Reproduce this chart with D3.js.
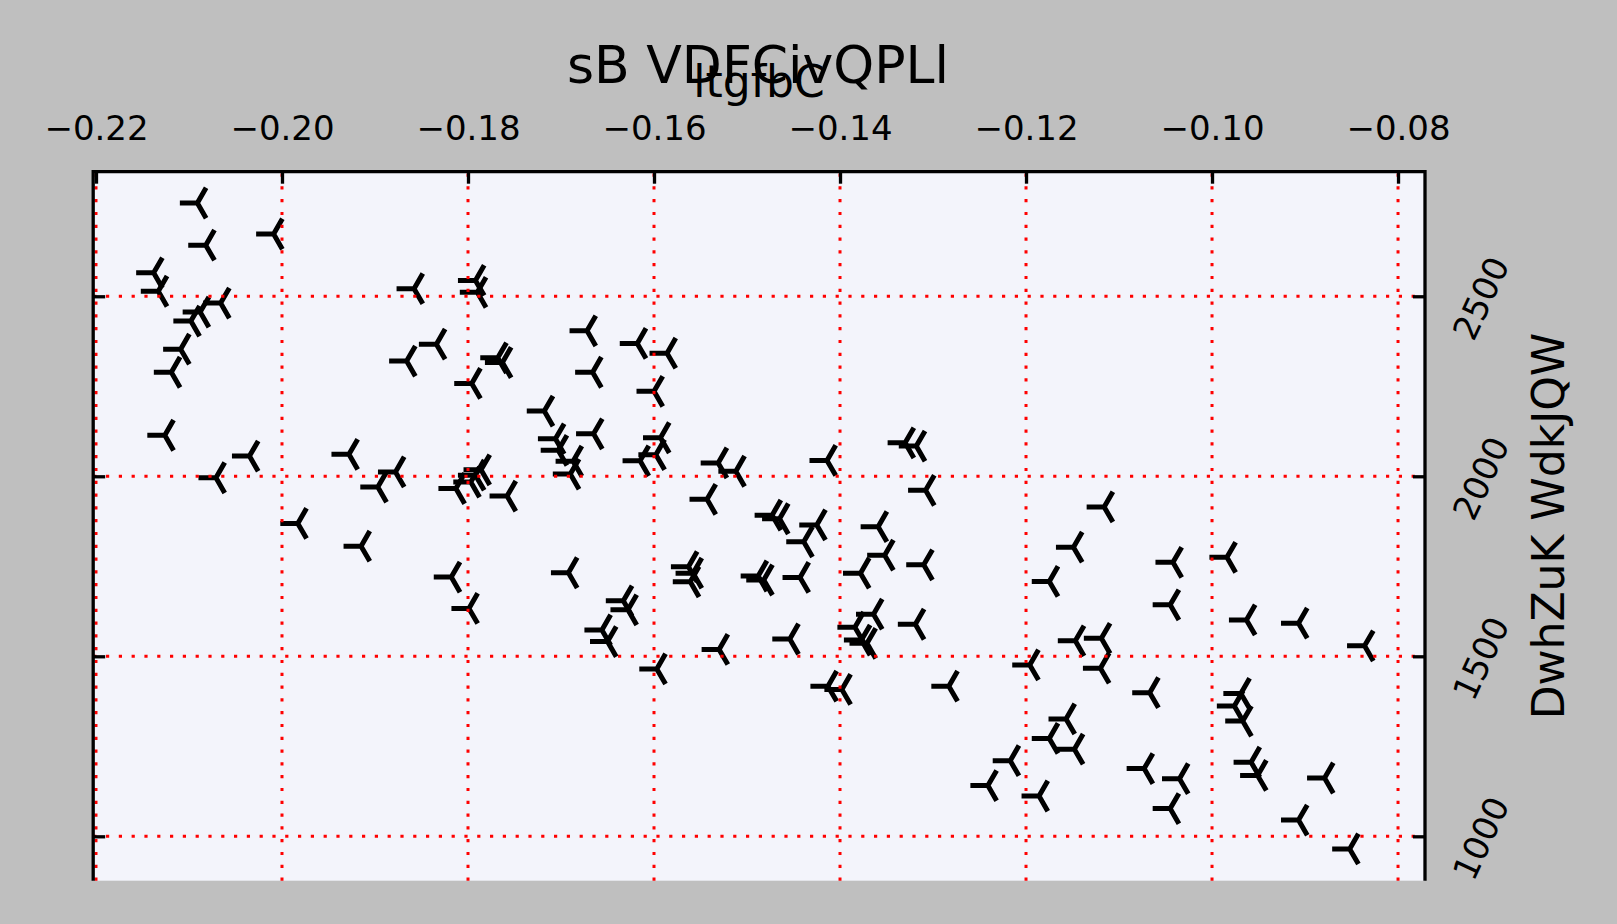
<!DOCTYPE html>
<html>
<head>
<meta charset="utf-8">
<script src="https://cdn.jsdelivr.net/npm/d3@7"></script>
<style>
  html, body { margin: 0; padding: 0; background: #bfbfbf; }
  svg { display: block; font-family: "DejaVu Sans", sans-serif; }
</style>
</head>
<body>
<svg id="chart"></svg>
<script>
// Values
const xValues = [
  -0.2091, -0.2009, -0.2082, -0.2138, -0.2133, -0.2066, -0.2088, -0.2098, -0.2109, -0.2119,
  -0.2126, -0.1858, -0.1792, -0.1790, -0.1834, -0.1866, -0.1768, -0.1763, -0.1796, -0.1718,
  -0.2035, -0.2071, -0.1928, -0.1878, -0.1897, -0.1786, -0.1792, -0.1797, -0.1813, -0.1758,
  -0.1983, -0.1672, -0.1618, -0.1586, -0.1666, -0.1600, -0.1706, -0.1703, -0.1687, -0.1690,
  -0.1665, -0.1593, -0.1598, -0.1615, -0.1531, -0.1512, -0.1414, -0.1543, -0.1330, -0.1318,
  -0.1308, -0.1473, -0.1465, -0.1425, -0.1359, -0.1116, -0.1915, -0.1818, -0.1799, -0.1692,
  -0.1633, -0.1628, -0.1656, -0.1650, -0.1597, -0.1530, -0.1563, -0.1558, -0.1561, -0.1488,
  -0.1482, -0.1443, -0.1454, -0.1439, -0.1352, -0.1378, -0.1310, -0.1364, -0.1319, -0.1384,
  -0.1377, -0.1371, -0.1413, -0.1398, -0.1283, -0.1149, -0.1175, -0.1042, -0.0984, -0.1045,
  -0.0963, -0.0907, -0.0836, -0.1147, -0.1119, -0.1196, -0.1120, -0.1067, -0.0969, -0.0976,
  -0.0967, -0.1157, -0.1175, -0.1148, -0.1217, -0.1241, -0.1186, -0.1073, -0.1035, -0.1045,
  -0.0958, -0.0951, -0.0879, -0.0907, -0.0852
];
const yValues = [
  2759, 2673, 2642, 2565, 2514, 2481, 2456, 2431, 2353, 2289,
  2114, 2521, 2544, 2511, 2367, 2320, 2329, 2316, 2258, 2181,
  2056, 1996, 2061, 2012, 1970, 2018, 2003, 1984, 1966, 1945,
  1869, 2404, 2369, 2342, 2289, 2236, 2104, 2072, 2042, 2006,
  2118, 2107, 2060, 2043, 2037, 2014, 2044, 1936, 2093, 2084,
  1961, 1892, 1882, 1865, 1860, 1915, 1806, 1720, 1633, 1732,
  1654, 1629, 1573, 1541, 1465, 1519, 1749, 1731, 1707, 1723,
  1712, 1719, 1548, 1818, 1781, 1731, 1754, 1617, 1589, 1581,
  1545, 1536, 1417, 1408, 1417, 1803, 1708, 1761, 1775, 1643,
  1601, 1592, 1529, 1543, 1550, 1476, 1467, 1399, 1397, 1362,
  1320, 1326, 1272, 1242, 1210, 1141, 1112, 1188, 1160, 1077,
  1206, 1169, 1162, 1045, 965
];
const xTicks = [-0.22, -0.20, -0.18, -0.16, -0.14, -0.12, -0.10, -0.08];
const yTicks = [1000, 1500, 2000, 2500];
const xDomain = [-0.2203, -0.0771];
const yDomain = [876.7, 2846];

const titleText = "sB VDFCivQPLl";
const xLabel = "ltgfbC";
const yLabel = "DwhZuK WdkJQW";

const width = 1617;
const height = 924;
const plot = { left: 93.2, top: 171.7, right: 1425, bottom: 880.7 };

const svg = d3.select("#chart")
  .attr("width", width)
  .attr("height", height);

svg.append("rect")
  .attr("width", width)
  .attr("height", height)
  .attr("fill", "#bfbfbf");

const x = d3.scaleLinear().domain(xDomain).range([plot.left, plot.right]);
const y = d3.scaleLinear().domain(yDomain).range([plot.bottom, plot.top]);

// Axes face
svg.append("rect")
  .attr("x", plot.left)
  .attr("y", plot.top)
  .attr("width", plot.right - plot.left)
  .attr("height", plot.bottom - plot.top)
  .attr("fill", "#f3f4fb");

svg.append("clipPath").attr("id", "plotClip")
  .append("rect")
  .attr("x", plot.left)
  .attr("y", plot.top)
  .attr("width", plot.right - plot.left)
  .attr("height", plot.bottom - plot.top);

// tri_left marker
const r = 17.5;
const triLeft = `M0,0L${-r},0M0,0L${r * 0.5},${-r * 0.866}M0,0L${r * 0.5},${r * 0.866}`;

const points = xValues.map((v, i) => ({ x: v, y: yValues[i] }));

svg.append("g")
  .attr("clip-path", "url(#plotClip)")
  .selectAll("path")
  .data(points)
  .join("path")
  .attr("d", triLeft)
  .attr("transform", d => `translate(${x(d.x)},${y(d.y)})`)
  .attr("fill", "none")
  .attr("stroke", "#000")
  .attr("stroke-width", 5);

// Grid (drawn above the markers)
const grid = svg.append("g")
  .attr("fill", "none")
  .attr("stroke", "#ff0000")
  .attr("stroke-width", 3)
  .attr("stroke-dasharray", "3.2 9.6");

grid.selectAll("path.vx")
  .data(xTicks)
  .join("path")
  .attr("class", "vx")
  .attr("d", d => `M${x(d)},${plot.bottom}V${plot.top}`);

grid.selectAll("path.hy")
  .data(yTicks)
  .join("path")
  .attr("class", "hy")
  .attr("d", d => `M${plot.left},${y(d)}H${plot.right}`);

// Ticks, inward
const xAxis = svg.append("g")
  .attr("transform", `translate(0,${plot.top})`)
  .call(d3.axisTop(x)
    .tickValues(xTicks)
    .tickSizeInner(-12)
    .tickSizeOuter(0)
    .tickPadding(31.7)
    .tickFormat(d3.format(".2f")));
xAxis.select(".domain").remove();
xAxis.selectAll("line").attr("stroke", "#000").attr("stroke-width", 3.3);
xAxis.selectAll("text")
  .attr("font-size", 34)
  .attr("font-family", "DejaVu Sans")
  .attr("fill", "#000");

const leftAxis = svg.append("g")
  .attr("transform", `translate(${plot.left},0)`)
  .call(d3.axisLeft(y).tickValues(yTicks).tickSizeInner(-12).tickSizeOuter(0).tickFormat(""));
leftAxis.select(".domain").remove();
leftAxis.selectAll("line").attr("stroke", "#000").attr("stroke-width", 3.3);

const rightAxis = svg.append("g")
  .attr("transform", `translate(${plot.right},0)`)
  .call(d3.axisRight(y).tickValues(yTicks).tickSizeInner(-12).tickSizeOuter(0).tickFormat(""));
rightAxis.select(".domain").remove();
rightAxis.selectAll("line").attr("stroke", "#000").attr("stroke-width", 3.3);

// Rotated right tick labels
svg.append("g")
  .selectAll("text")
  .data(yTicks)
  .join("text")
  .attr("transform", d => `translate(${plot.right + 56},${y(d) + 2}) rotate(-65)`)
  .attr("text-anchor", "middle")
  .attr("dy", "0.35em")
  .attr("font-size", 34)
  .attr("fill", "#000")
  .text(d => d);

// Spines: left, top, right (no bottom)
svg.append("path")
  .attr("d", `M${plot.left},${plot.bottom}V${plot.top}H${plot.right}V${plot.bottom}`)
  .attr("fill", "none")
  .attr("stroke", "#000")
  .attr("stroke-width", 3.3)
  .attr("stroke-linejoin", "miter");

// Labels
svg.append("text")
  .attr("x", 758)
  .attr("y", 83.3)
  .attr("text-anchor", "middle")
  .attr("font-size", 52)
  .attr("fill", "#000")
  .text(titleText);

svg.append("text")
  .attr("x", 759)
  .attr("y", 97)
  .attr("text-anchor", "middle")
  .attr("font-size", 44)
  .attr("fill", "#000")
  .text(xLabel);

svg.append("text")
  .attr("transform", `translate(1564,526) rotate(-90)`)
  .attr("text-anchor", "middle")
  .attr("font-size", 44)
  .attr("fill", "#000")
  .text(yLabel);
</script>
</body>
</html>
